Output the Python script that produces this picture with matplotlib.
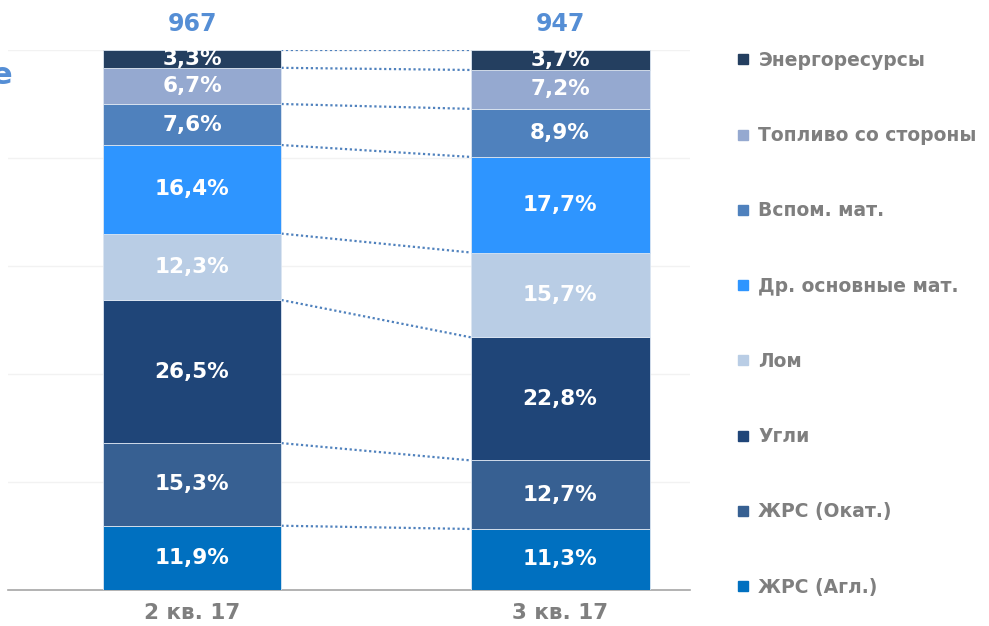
import matplotlib.pyplot as plt
from matplotlib.lines import Line2D
import numpy as np

periods = ['2 кв. 17', '3 кв. 17']
totals = [967, 947]
series = ['ЖРС (Агл.)', 'ЖРС (Окат.)', 'Угли', 'Лом', 'Др. основные мат.',
          'Вспом. мат.', 'Топливо со стороны', 'Энергоресурсы']
q2_17 = [11.9, 15.3, 26.5, 12.3, 16.4, 7.6, 6.7, 3.3]
q3_17 = [11.3, 12.7, 22.8, 15.7, 17.7, 8.9, 7.2, 3.7]
colors = ['#0070C0', '#376092', '#1F4578', '#B9CDE5', '#2E95FF',
          '#4F81BD', '#95A9D0', '#243F60']

values = np.array([q2_17, q3_17]).T
x = np.arange(len(periods))
width = 0.486

fig = plt.figure(figsize=(9.89, 6.26), dpi=100)
ax = fig.add_axes([8 / 989, 36 / 626, 682 / 989, 540 / 626])

bottom = np.zeros(len(periods))
for name, vals, col in zip(series, values, colors):
    ax.bar(x, vals, width, bottom=bottom, color=col, edgecolor='#DCE6F2',
           linewidth=0.6, label=name, zorder=3)
    for xi, v, b in zip(x, vals, bottom):
        ax.text(xi, b + v / 2, f'{v:.1f}%'.replace('.', ','), ha='center',
                va='center', color='white', fontsize=15.5, fontweight='bold', zorder=4)
    bottom += vals

# dotted connectors between bars
cum = np.cumsum(values, axis=0)
for row in cum:
    ax.plot([x[0] + width / 2, x[1] - width / 2], [row[0], row[1]],
            linestyle=(0, (1, 1.2)), color='#4F81BD', linewidth=1.6, zorder=2)

for xi, t in zip(x, totals):
    ax.text(xi, 104.8, str(t), ha='center', va='center', color='#558ED5',
            fontsize=17, fontweight='bold')

ax.set_xlim(-0.5, 1.353)
ax.set_ylim(0, 100)
ax.set_yticks(np.arange(0, 101, 20))
ax.yaxis.grid(True, color='#F2F2F2', linewidth=1, zorder=0)
ax.tick_params(left=False, labelleft=False, bottom=False)
ax.set_xticks(x)
ax.set_xticklabels(periods, fontsize=15.5, fontweight='bold', color='#7F7F7F')
ax.tick_params(axis='x', pad=6)
for s in ['top', 'right', 'left']:
    ax.spines[s].set_visible(False)
ax.spines['bottom'].set_color('#A6A6A6')
ax.spines['bottom'].set_linewidth(1.2)

handles = [Line2D([], [], marker='s', linestyle='none', markersize=7,
                  markerfacecolor=c, markeredgecolor=c) for c in colors]
leg = fig.legend(handles[::-1], series[::-1], loc='upper left',
                 bbox_to_anchor=(719 / 989, 1 - 34 / 626), frameon=False,
                 handlelength=0.8, handletextpad=0.4, labelspacing=3.0,
                 prop={'size': 13.5, 'weight': 'bold'})
for t in leg.get_texts():
    t.set_color('#7F7F7F')

fig.text(12 / 989, 1 - 75 / 626, 'е', ha='right', va='center', color='#558ED5',
         fontsize=22, fontweight='bold')

fig.savefig('out.png', dpi=100)
